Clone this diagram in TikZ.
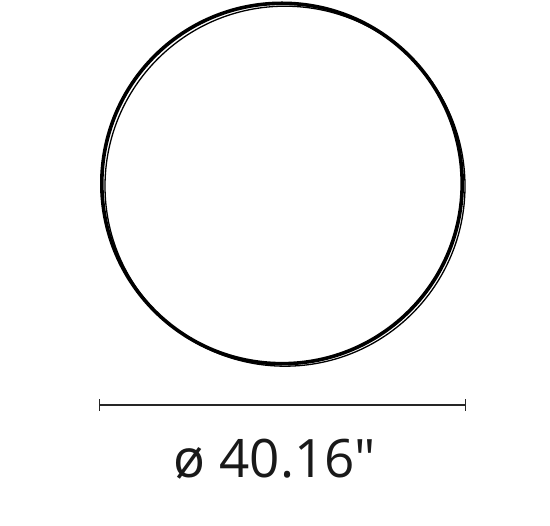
\documentclass[tikz,border=0pt]{standalone}
\usepackage{fontspec}
\newfontfamily\dimfont{Open Sans}
\begin{document}
\begin{tikzpicture}[x=1pt,y=1pt,
  ringthick/.style={line width=3.6pt,draw=black},
  ringthin/.style={line width=1.3pt,draw=black},
  dimline/.style={line width=1.4pt,draw=black!85},
  dimlabel/.style={anchor=base,inner sep=0pt,font=\dimfont\fontsize{53}{60}\selectfont,text=black!90}]
\useasboundingbox (0,0) rectangle (550,526);
\coordinate (c1) at (282,342.5);
\coordinate (c2) at (285,339.8);
\draw[ringthick] (c1) circle[radius=180.2];
\draw[ringthin] (c2) circle[radius=180];
\coordinate (dl) at (99.5,121);
\coordinate (dr) at (465.5,121);
\draw[dimline] (dl) -- (dr);
\draw[dimline] ([yshift=-6pt]dl) -- ([yshift=6pt]dl);
\draw[dimline] ([yshift=-6pt]dr) -- ([yshift=6pt]dr);
\node[dimlabel] (lbl) at (275,48) {ø 40.16"};
\end{tikzpicture}
\end{document}
